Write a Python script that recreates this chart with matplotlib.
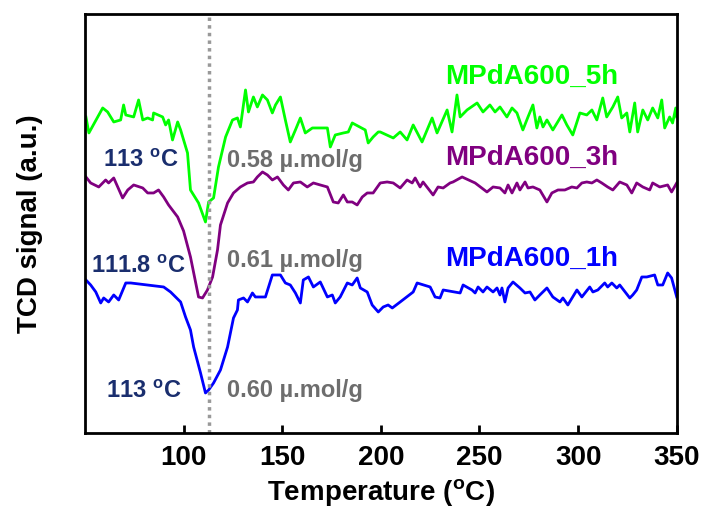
import matplotlib
matplotlib.use("Agg")
import matplotlib.pyplot as plt

plt.rcParams['font.family'] = ['Liberation Sans', 'DejaVu Sans']
plt.rcParams['font.weight'] = 'bold'
plt.rcParams['mathtext.fontset'] = 'custom'
plt.rcParams['mathtext.rm'] = 'Liberation Sans:bold'
plt.rcParams['mathtext.bf'] = 'Liberation Sans:bold'

# MPdA600_5h (green)
t_5h = [50.5, 52, 59, 61.5, 64.6, 68.1, 69.6, 70.7, 74.7, 77.2, 79.3, 81.8, 84.3, 84.8,
        89.4, 90.9, 92.4, 94.4, 97, 98.5, 102, 103.5, 107.6, 111.1, 112.7, 115.2, 117.7,
        121.3, 124.8, 127.3, 128.8, 131.4, 132.9, 135.4, 137.4, 140, 142.5, 145, 146.6,
        149.1, 151.6, 154.1, 156.7, 159.2, 161.7, 165.3, 172.9, 174.4, 176.9, 181, 183.5,
        185.5, 192.1, 193.6, 196.1, 198.7, 199.7, 206.3, 209.8, 213.3, 216.4, 220.9, 226,
        228.5, 233.6, 236.1, 238.6, 240.2, 243.7, 248.8, 251.8, 255.3, 257.9, 260.4, 263.9,
        266.5, 269, 272, 274.6, 277.1, 279.1, 280.6, 282.2, 284.2, 287.2, 291.8, 294.3,
        297.3, 300.9, 304.4, 307, 309.5, 312.5, 314.5, 317.6, 320.1, 322.1, 324.7, 326.2,
        328.7, 330.2, 332.8, 335.3, 337.8, 340.4, 342.4, 343.9, 346.4, 347.9, 349.5, 350]
s_5h = [316, 300, 325, 321, 311, 313, 328, 318, 316, 333, 313, 315, 313, 320,
        316, 308, 313, 293, 311, 303, 280, 243, 230, 211, 231, 235, 266,
        296, 313, 315, 306, 343, 321, 336, 326, 338, 333, 320, 328,
        336, 313, 291, 303, 315, 300, 305, 305, 286, 298, 300, 301,
        310, 303, 290, 296, 301, 301, 295, 301, 293, 308, 291, 315,
        300, 323, 301, 338, 316, 323, 330, 321, 328, 321, 326, 316,
        325, 320, 303, 316, 328, 305, 316, 306, 313, 303, 318, 308,
        298, 320, 318, 323, 313, 335, 316, 326, 336, 315, 320, 301,
        330, 301, 323, 313, 325, 315, 333, 305, 316, 310, 325, 316]

# MPdA600_3h (purple)
t_3h = [50.5, 52.9, 57, 60.5, 62, 64.6, 69.1, 71.7, 74.7, 79.3, 81.8, 84.8, 87.3, 89.9,
        92.4, 97, 100, 103.5, 107.6, 109.6, 112.1, 114.7, 117.2, 118.7, 122.3, 125.3,
        128.8, 132.4, 135.4, 137.4, 140, 142.5, 145, 147.6, 150.6, 153.1, 155.7, 159.2,
        162.7, 165.8, 169.3, 172.9, 175.9, 178.4, 181, 183, 185.5, 188, 190.6, 193.1,
        196.1, 199.7, 203.2, 206.3, 209.8, 213.3, 215.9, 217.4, 219.9, 221.4, 226.5, 229,
        231.6, 235.1, 236.6, 241.2, 247.8, 253.8, 256.9, 260.4, 262.9, 264.5, 266.5, 269,
        270.5, 273.1, 274.6, 277.1, 280.6, 284.2, 286.7, 289.8, 293.3, 296.8, 299.4, 301.9,
        304.4, 307, 309.5, 312, 315, 317.6, 321.1, 324.7, 327.2, 329.7, 332.8, 336.3,
        337.8, 341.4, 345.4, 347.4, 350]
s_3h = [256, 250, 246, 253, 250, 255, 235, 243, 248, 245, 240, 240, 243, 236,
        228, 216, 202, 176, 136, 135, 143, 156, 183, 208, 230, 240,
        246, 250, 251, 256, 261, 258, 253, 256, 248, 243, 250, 251,
        246, 250, 248, 246, 231, 230, 238, 231, 231, 228, 236, 240,
        240, 250, 251, 250, 245, 253, 250, 255, 246, 251, 238, 246,
        245, 250, 251, 256, 250, 241, 246, 245, 240, 248, 240, 250,
        243, 251, 245, 246, 243, 231, 240, 243, 243, 246, 245, 250,
        251, 250, 253, 250, 246, 243, 251, 248, 240, 250, 246, 243,
        250, 246, 248, 241, 250]

# MPdA600_1h (blue)
t_1h = [50.5, 52.9, 55.5, 58, 59.5, 62, 64.6, 67.1, 70.7, 73.2, 89.9, 93.4, 98.5, 101,
        103.5, 105.1, 108.6, 111.1, 112.7, 115.2, 118.7, 122.3, 125.3, 127.3, 127.8,
        130.4, 132.4, 134.9, 136.4, 141.5, 145, 149.1, 151.6, 154.1, 156.7, 159.2, 160.7,
        163.3, 165.8, 169.3, 172.9, 175.4, 176.9, 179.4, 183, 185.5, 188, 189.6, 193.1,
        195.6, 198.7, 201.2, 203.7, 205.8, 209.8, 216.4, 218.4, 225, 227.5, 230, 231.6,
        240.2, 241.7, 246.2, 247.8, 249.3, 251.8, 253.8, 256.9, 258.9, 260.4, 261.4, 262.9,
        264.5, 267, 270.5, 273.1, 275.6, 278.1, 280.6, 284.2, 287.2, 290.8, 292.3, 294.8,
        299.4, 301.9, 305.9, 307.5, 310, 313.5, 315, 317.1, 319.6, 321.1, 326.2, 327.7,
        329.7, 332.3, 334.8, 338.8, 340.4, 342.9, 345.4, 347.4, 350]
s_1h = [153, 148, 141, 130, 135, 131, 138, 133, 150, 150, 146, 141, 131, 116,
        103, 86, 60, 40, 43, 50, 63, 86, 115, 123, 133,
        135, 131, 140, 136, 136, 158, 158, 150, 148, 140, 130, 153,
        156, 146, 151, 136, 138, 130, 136, 150, 148, 155, 145, 141,
        128, 121, 126, 128, 125, 131, 141, 150, 146, 136, 135, 143,
        140, 148, 143, 140, 146, 141, 146, 141, 145, 138, 145, 131,
        145, 151, 145, 140, 141, 133, 138, 145, 136, 131, 135, 128,
        143, 136, 146, 141, 143, 150, 146, 150, 145, 148, 135, 138,
        143, 156, 156, 158, 148, 148, 160, 155, 136]

peak_t = 113
x_ticks = [100, 150, 200, 250, 300, 350]

fig = plt.figure(figsize=(7.02, 5.17), dpi=100)
ax = fig.add_axes([0.121, 0.1625, 0.843, 0.8105])

ax.plot(t_5h, s_5h, color='#00ff00', lw=2)
ax.plot(t_3h, s_3h, color='#800080', lw=2)
ax.plot(t_1h, s_1h, color='#0000ff', lw=2)
ax.axvline(peak_t, color='#999999', lw=2.5, ls=(0, (1, 1.2)))

ax.set_xlim(50, 350)
ax.set_ylim(0, 419)
ax.set_xticks(x_ticks)
ax.set_yticks([])
ax.tick_params(axis='x', direction='in', length=6, width=2, labelsize=20, pad=9)
for lab in ax.get_xticklabels():
    lab.set_fontweight('bold')
for sp in ax.spines.values():
    sp.set_linewidth(2)

ax.set_xlabel(r'Temperature ($^{\mathbf{o}}$C)', fontsize=20, fontweight='bold', labelpad=4)
ax.set_ylabel('TCD signal (a.u.)', fontsize=20, fontweight='bold', labelpad=30)

ax.text(276.5, 356, 'MPdA600_5h', color='#00ff00', fontsize=20, fontweight='bold', ha='center', va='center')
ax.text(276.5, 275, 'MPdA600_3h', color='#800080', fontsize=20, fontweight='bold', ha='center', va='center')
ax.text(276.5, 174, 'MPdA600_1h', color='#0000ff', fontsize=20, fontweight='bold', ha='center', va='center')

navy = '#1a2e6e'
gray = '#6d6d6d'
ax.text(59, 272, r'113 $^{\mathbf{o}}$C', color=navy, fontsize=17, ha='left', va='center')
ax.text(53, 166, r'111.8 $^{\mathbf{o}}$C', color=navy, fontsize=17, ha='left', va='center')
ax.text(60.5, 41, r'113 $^{\mathbf{o}}$C', color=navy, fontsize=17, ha='left', va='center')
ax.text(122, 272, '0.58 µ.mol/g', color=gray, fontsize=17, ha='left', va='center')
ax.text(122, 172, '0.61 µ.mol/g', color=gray, fontsize=17, ha='left', va='center')
ax.text(122, 42, '0.60 µ.mol/g', color=gray, fontsize=17, ha='left', va='center')

fig.savefig('out.png', dpi=100)
